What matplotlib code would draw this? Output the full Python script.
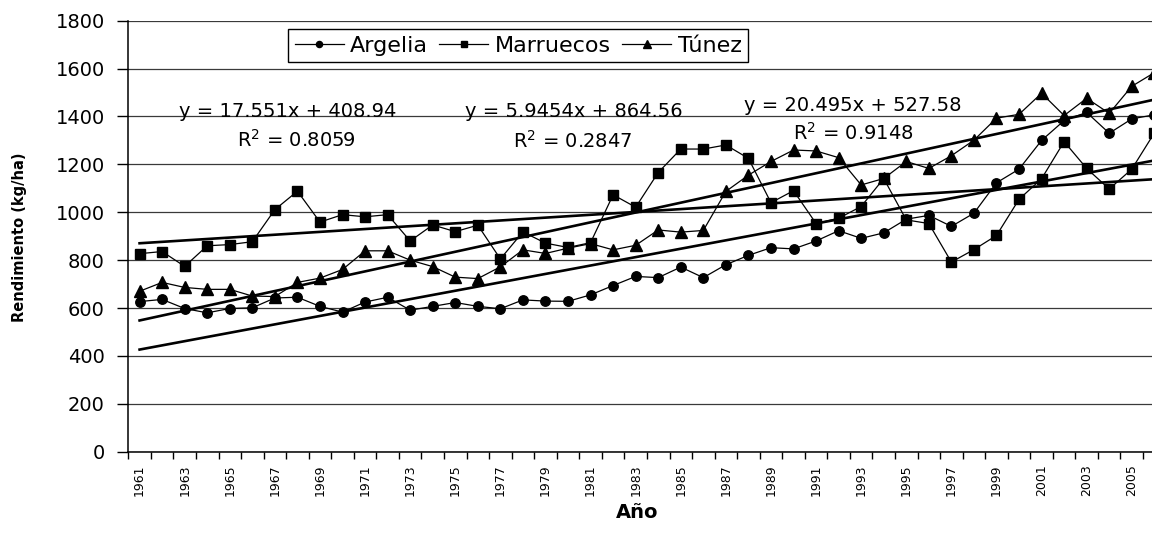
import numpy as np
import matplotlib
matplotlib.use("Agg")
import matplotlib.pyplot as plt

# Rendimiento por año (kg/ha)
years = list(range(1961, 2007))
argelia = [627, 636, 598, 580, 598, 601, 642, 645, 607, 583,
           625, 645, 591, 607, 623, 607, 597, 634, 629, 628,
           655, 694, 732, 727, 771, 727, 781, 820, 852, 847,
           880, 923, 891, 914, 971, 987, 941, 996, 1123, 1180,
           1300, 1383, 1417, 1330, 1390, 1407]
marruecos = [827, 836, 774, 860, 865, 877, 1011, 1088, 959, 990,
             981, 990, 880, 947, 919, 946, 805, 918, 871, 853,
             873, 1073, 1021, 1166, 1264, 1264, 1281, 1225, 1040, 1090,
             953, 975, 1024, 1141, 968, 953, 792, 844, 903, 1054,
             1140, 1295, 1183, 1097, 1180, 1331]
tunez = [670, 707, 686, 678, 678, 650, 648, 707, 725, 761,
         839, 839, 800, 773, 729, 723, 772, 843, 828, 850,
         869, 843, 862, 926, 917, 924, 1087, 1155, 1212, 1260,
         1256, 1228, 1114, 1141, 1212, 1183, 1236, 1301, 1393, 1409,
         1497, 1404, 1476, 1413, 1526, 1583]

series_names = ["Argelia", "Marruecos", "Túnez"]
series_markers = ["o", "s", "^"]
series_msize = [6.8, 7.2, 8.0]

# Tendencias lineales y = a*x + b (x = 1..n)
trend_slope = [17.551, 5.9454, 20.495]
trend_intercept = [408.94, 864.56, 527.58]
trend_r2 = ["0.8059", "0.2847", "0.9148"]
# posiciones de las etiquetas de las ecuaciones (categoría, valor)
eq_pos = [(6.56, 1419), (19.26, 1419), (31.63, 1444)]
r2_pos = [(6.94, 1302), (19.22, 1298), (31.63, 1331)]

W, H = 1152, 549
fig = plt.figure(figsize=(W / 100, H / 100), dpi=100)
ax_left, ax_right = 128.3, 1165.6
ax_top, ax_bottom = 20.7, 451.7
ax = fig.add_axes([ax_left / W, 1 - ax_bottom / H,
                   (ax_right - ax_left) / W, (ax_bottom - ax_top) / H])

n = len(years)
pos = np.arange(n)
data = [argelia, marruecos, tunez]

ax.set_xlim(-0.5, n - 0.5)
ax.set_ylim(0, 1800)
ax.set_yticks(np.arange(0, 1801, 200))
ax.yaxis.grid(True, color="#3a3a3a", linewidth=0.9)
ax.set_axisbelow(True)

for vals, name, mk, ms in zip(data, series_names, series_markers, series_msize):
    ax.plot(pos, vals, color="black", linewidth=0.9, marker=mk,
            markersize=ms, markerfacecolor="black", markeredgecolor="black",
            label=name, zorder=3)

xn = pos + 1
for a, b in zip(trend_slope, trend_intercept):
    ax.plot(pos, a * xn + b, color="black", linewidth=1.9, zorder=4)

for (ex, ey), (rx, ry), a, b, r2 in zip(eq_pos, r2_pos, trend_slope,
                                       trend_intercept, trend_r2):
    ax.text(ex, ey, f"y = {a}x + {b:.2f}", ha="center", va="center",
            fontsize=14, color="black", zorder=5)
    ax.text(rx, ry, r"R$^{2}$ = " + r2, ha="center", va="center",
            fontsize=14, color="black", zorder=5)

# Ejes estilo categoría: marcas entre categorías, etiquetas alternas
ax.set_xticks(np.arange(-0.5, n, 1.0))
ax.set_xticklabels([])
ax.tick_params(axis="x", which="major", length=5, width=1, color="black",
               direction="out")
ax.set_xticks(pos[::2], minor=True)
ax.set_xticklabels([str(y) for y in years[::2]], minor=True, rotation=90,
                   fontsize=9)
ax.tick_params(axis="x", which="minor", length=0, pad=9)
ax.tick_params(axis="y", length=8, width=1, direction="out", pad=9,
               labelsize=14)

for side in ["top", "right"]:
    ax.spines[side].set_visible(False)
for side in ["left", "bottom"]:
    ax.spines[side].set_color("black")
    ax.spines[side].set_linewidth(1.1)

ax.set_xlabel("Año", fontsize=14, fontweight="bold")
ax.xaxis.set_label_coords((637 - ax_left) / (ax_right - ax_left),
                          (ax_bottom - 512) / (ax_bottom - ax_top))
ax.xaxis.label.set_va("center")
ax.set_ylabel("Rendimiento (kg/ha)", fontsize=10.5, fontweight="bold")
ax.yaxis.set_label_coords((20 - ax_left) / (ax_right - ax_left),
                          (ax_bottom - 237) / (ax_bottom - ax_top))
ax.yaxis.label.set_va("center")

leg = ax.legend(loc="upper left", ncol=3, fontsize=16,
                bbox_to_anchor=(288 / W, 1 - 29 / H),
                bbox_transform=fig.transFigure, borderaxespad=0,
                frameon=True, fancybox=False, shadow=False, markerscale=0.65,
                handlelength=2.2, handletextpad=0.3, columnspacing=0.5,
                borderpad=0.3)
leg.get_frame().set_edgecolor("black")
leg.get_frame().set_linewidth(1.0)
leg.get_frame().set_facecolor("white")
leg.get_frame().set_alpha(1)

fig.savefig("out.png", dpi=100)
